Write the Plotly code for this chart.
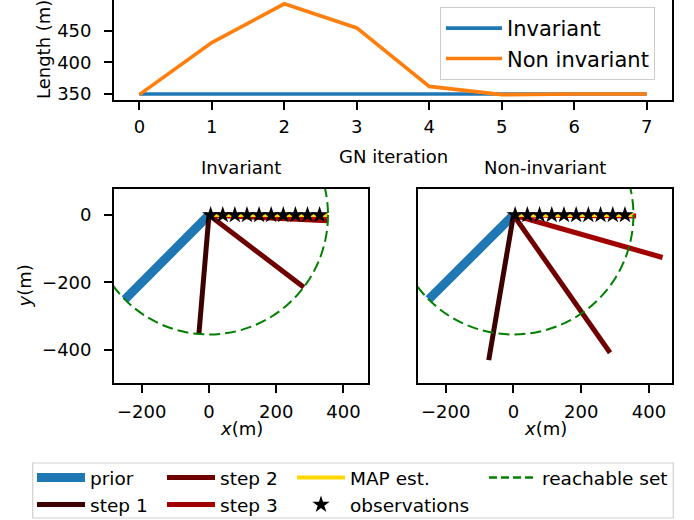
import plotly.graph_objects as go

# ---------------- data ----------------
gn_iter = [0, 1, 2, 3, 4, 5, 6, 7]
len_invariant = [350, 350, 350, 350, 350, 350, 350, 350]
len_non_invariant = [349, 431, 492, 454, 362, 349, 350, 350]

prior_end_x = -250
prior_end_y = -250

inv_step_x = [-30, 282, 353, 353]
inv_step_y = [-353, -214, -17, -3]

non_step_x = [-73, 285, 440, 362]
non_step_y = [-430, -408, -126, -3]

map_end_x = 353
map_end_y = 0

obs_x = [5, 41, 77, 113, 149, 185, 221, 257, 293, 329]
obs_y = [0, 0, 0, 0, 0, 0, 0, 0, 0, 0]

reach_radius = 354

step_names = ["step 1", "step 2", "step 3", "step 4"]
step_colors = ["#3d0000", "#6e0000", "#a00000", "#d40000"]
step_legend = ["legend2", "legend3", "legend3", "legend3"]
step_show = [True, True, True, False]

W, H = 694, 520
FONT = "DejaVu Sans"


def px(x):
    return x / W


def py(y):
    return 1 - y / H


fig = go.Figure()

# ---------------- top plot ----------------
fig.add_trace(go.Scatter(x=gn_iter, y=len_invariant, mode="lines", name="Invariant",
                         line=dict(color="#1f77b4", width=3.6), xaxis="x", yaxis="y",
                         legend="legend"))
fig.add_trace(go.Scatter(x=gn_iter, y=len_non_invariant, mode="lines", name="Non invariant",
                         line=dict(color="#ff7f0e", width=3.6), xaxis="x", yaxis="y",
                         legend="legend"))

# ---------------- bottom panels ----------------
panels = [("x2", "y2", inv_step_x, inv_step_y, True),
          ("x3", "y3", non_step_x, non_step_y, False)]
for xa, ya, sx, sy, first in panels:
    fig.add_trace(go.Scatter(x=[0, prior_end_x], y=[0, prior_end_y], mode="lines",
                             name="prior", line=dict(color="#1f77b4", width=9),
                             xaxis=xa, yaxis=ya, legend="legend2", showlegend=first,
                             legendrank=1))
    for i in range(len(sx)):
        fig.add_trace(go.Scatter(x=[0, sx[i]], y=[0, sy[i]], mode="lines",
                                 name=step_names[i],
                                 line=dict(color=step_colors[i], width=5),
                                 xaxis=xa, yaxis=ya, legend=step_legend[i],
                                 showlegend=first and step_show[i],
                                 legendrank=2 + i))
    fig.add_trace(go.Scatter(x=[0, map_end_x], y=[0, map_end_y], mode="lines",
                             name="MAP est.", line=dict(color="gold", width=4),
                             xaxis=xa, yaxis=ya, legend="legend4", showlegend=first,
                             legendrank=1))
    fig.add_trace(go.Scatter(x=obs_x, y=obs_y, mode="markers", name="observations",
                             marker=dict(symbol="star", color="black", size=13),
                             xaxis=xa, yaxis=ya, legend="legend4", showlegend=first,
                             legendrank=2))
    fig.add_shape(type="circle", xref=xa, yref=ya,
                  x0=-reach_radius, x1=reach_radius, y0=-reach_radius, y1=reach_radius,
                  line=dict(color="green", width=2, dash="11px,5px"), layer="above")

# legend entry for the reachable set (circle drawn as shapes above)
fig.add_trace(go.Scatter(x=[None], y=[None], mode="lines", name="reachable set",
                         line=dict(color="green", width=2.5, dash="8px,4px"),
                         xaxis="x2", yaxis="y2", legend="legend5", showlegend=True))

axis_common = dict(showline=True, mirror=True, linecolor="black", linewidth=1.8,
                   ticks="outside", ticklen=8, tickwidth=1.8, tickcolor="black",
                   showgrid=False, zeroline=False,
                   tickfont=dict(family=FONT, size=18, color="black"))

fig.update_layout(
    width=W, height=H, margin=dict(l=0, r=0, t=0, b=0, autoexpand=False),
    paper_bgcolor="white", plot_bgcolor="white",
    font=dict(family=FONT, size=18, color="black"),
    xaxis=dict(domain=[px(114), px(672)], range=[-0.35, 7.35], tickvals=gn_iter,
               anchor="y", ticklabelstandoff=1, **axis_common),
    yaxis=dict(domain=[py(100), py(0)], range=[340.6, 498], tickvals=[350, 400, 450],
               anchor="x", ticklabelstandoff=9, **axis_common),
    xaxis2=dict(domain=[px(114), px(368)], range=[-282.5, 473],
                tickvals=[-200, 0, 200, 400], anchor="y2", ticklabelstandoff=3,
                **axis_common),
    yaxis2=dict(domain=[py(383.3), py(189)], range=[-498.7, 77],
                tickvals=[-400, -200, 0], anchor="x2", ticklabelstandoff=9,
                **axis_common),
    xaxis3=dict(domain=[px(417.7), px(672.3)], range=[-282.6, 468.7],
                tickvals=[-200, 0, 200, 400], anchor="y3", ticklabelstandoff=3,
                **axis_common),
    yaxis3=dict(domain=[py(383.3), py(189)], range=[-498.7, 77], anchor="x3",
                showline=True, mirror=True, linecolor="black", linewidth=1.8,
                ticks="", showticklabels=False, showgrid=False, zeroline=False),
    legend=dict(x=px(440), y=py(7), xanchor="left", yanchor="top",
                bgcolor="rgba(255,255,255,0.8)", bordercolor="#cccccc", borderwidth=1,
                font=dict(family=FONT, size=21), itemwidth=56, tracegroupgap=0),
    legend2=dict(x=px(32), y=py(459), xanchor="left", yanchor="top",
                 bgcolor="rgba(0,0,0,0)", borderwidth=0,
                 font=dict(family=FONT, size=18.5), itemwidth=48),
    legend3=dict(x=px(162), y=py(459), xanchor="left", yanchor="top",
                 bgcolor="rgba(0,0,0,0)", borderwidth=0,
                 font=dict(family=FONT, size=18.5), itemwidth=48),
    legend4=dict(x=px(292), y=py(459), xanchor="left", yanchor="top",
                 bgcolor="rgba(0,0,0,0)", borderwidth=0,
                 font=dict(family=FONT, size=18.5), itemwidth=48),
    legend5=dict(x=px(484), y=py(459), xanchor="left", yanchor="top",
                 bgcolor="rgba(0,0,0,0)", borderwidth=0,
                 font=dict(family=FONT, size=18.5), itemwidth=48),
)

# legend frame for bottom legend
fig.add_shape(type="rect", xref="paper", yref="paper",
              x0=px(32.7), x1=px(673.3), y0=py(518), y1=py(463),
              line=dict(color="#d0d0d0", width=1.2), fillcolor="rgba(0,0,0,0)",
              layer="below")

ann = dict(showarrow=False, xref="paper", yref="paper", xanchor="center",
           yanchor="middle", font=dict(family=FONT, size=18, color="black"))
fig.add_annotation(text="Length (m)", x=px(44), y=py(50), textangle=-90, **ann)
fig.add_annotation(text="GN iteration", x=px(393), y=py(156), **ann)
fig.add_annotation(text="Invariant", x=px(241), y=py(168), **ann)
fig.add_annotation(text="Non-invariant", x=px(545), y=py(168), **ann)
fig.add_annotation(text="<i>y</i>(m)", x=px(23.5), y=py(286), textangle=-90, **ann)
fig.add_annotation(text="<i>x</i>(m)", x=px(241), y=py(428), **ann)
fig.add_annotation(text="<i>x</i>(m)", x=px(545), y=py(428), **ann)

fig.write_html("out.html",
               config={"displayModeBar": False},
               post_script="document.body.style.margin='0px';"
                           "document.body.style.overflow='hidden';")
